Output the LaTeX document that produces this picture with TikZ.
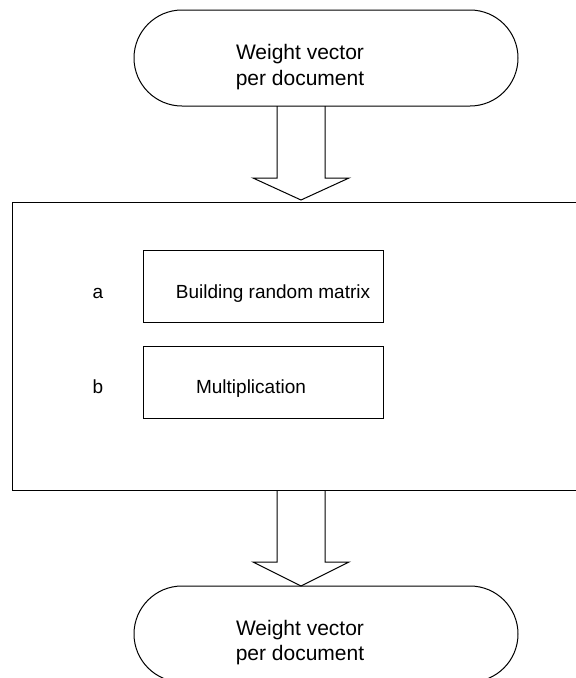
\documentclass[tikz,border=0pt]{standalone}
\usepackage{fontspec}
\setmainfont{Liberation Sans}
\usetikzlibrary{shapes.misc}

\tikzset{
  line/.style={draw=black, line width=1pt},
  terminal/.style={line, rounded rectangle, minimum width=384pt, minimum height=96pt, inner sep=0pt},
  stepbox/.style={line, rectangle, minimum width=240pt, minimum height=72pt, inner sep=0pt},
  txt/.style={font=\fontsize{19}{26}\selectfont, anchor=base, inner sep=0pt},
  termtxt/.style={txt, font=\fontsize{21}{26}\selectfont},
  pics/blockarrow/.style={code={
    % hollow arrow: shaft 48 wide, 72 long; head 96 wide, 22 long
    \draw[line, line join=miter] (-24,0) -- (-24,72) -- (-48,72) -- (0,#1) -- (48,72) -- (24,72) -- (24,0);
  }}
}

\begin{document}
\begin{tikzpicture}[x=1pt, y=-1pt]
  \useasboundingbox (0,0) rectangle (576,678);
  \clip (0,0) rectangle (576,678);

  % input terminal
  \node[terminal] (in) at (326,58) {};
  \node[termtxt] (inA) at (300,59.5) {Weight vector};
  \node[termtxt] (inB) at (300,85) {per document};

  % arrow into the process block
  \coordinate (a1) at (301,106);
  \pic at (a1) {blockarrow=94};

  % process block (runs off the right edge)
  \node[line, rectangle, minimum width=600pt, minimum height=288pt, anchor=north west, inner sep=0pt] (proc) at (12,202) {};

  % steps
  \node[stepbox] (sa) at (263,286) {};
  \node[stepbox] (sb) at (263,382) {};
  \node[txt] (la) at (98,298) {a};
  \node[txt] (lb) at (98,393) {b};
  \node[txt] (ta) at (273,298) {Building random matrix};
  \node[txt] (tb) at (251,393) {Multiplication};

  % arrow out of the process block
  \coordinate (a2) at (301,490);
  \pic at (a2) {blockarrow=96};

  % output terminal (runs off the bottom edge)
  \node[terminal] (out) at (326,634) {};
  \node[termtxt] (outA) at (300,635) {Weight vector};
  \node[termtxt] (outB) at (300,660.5) {per document};
\end{tikzpicture}
\end{document}
